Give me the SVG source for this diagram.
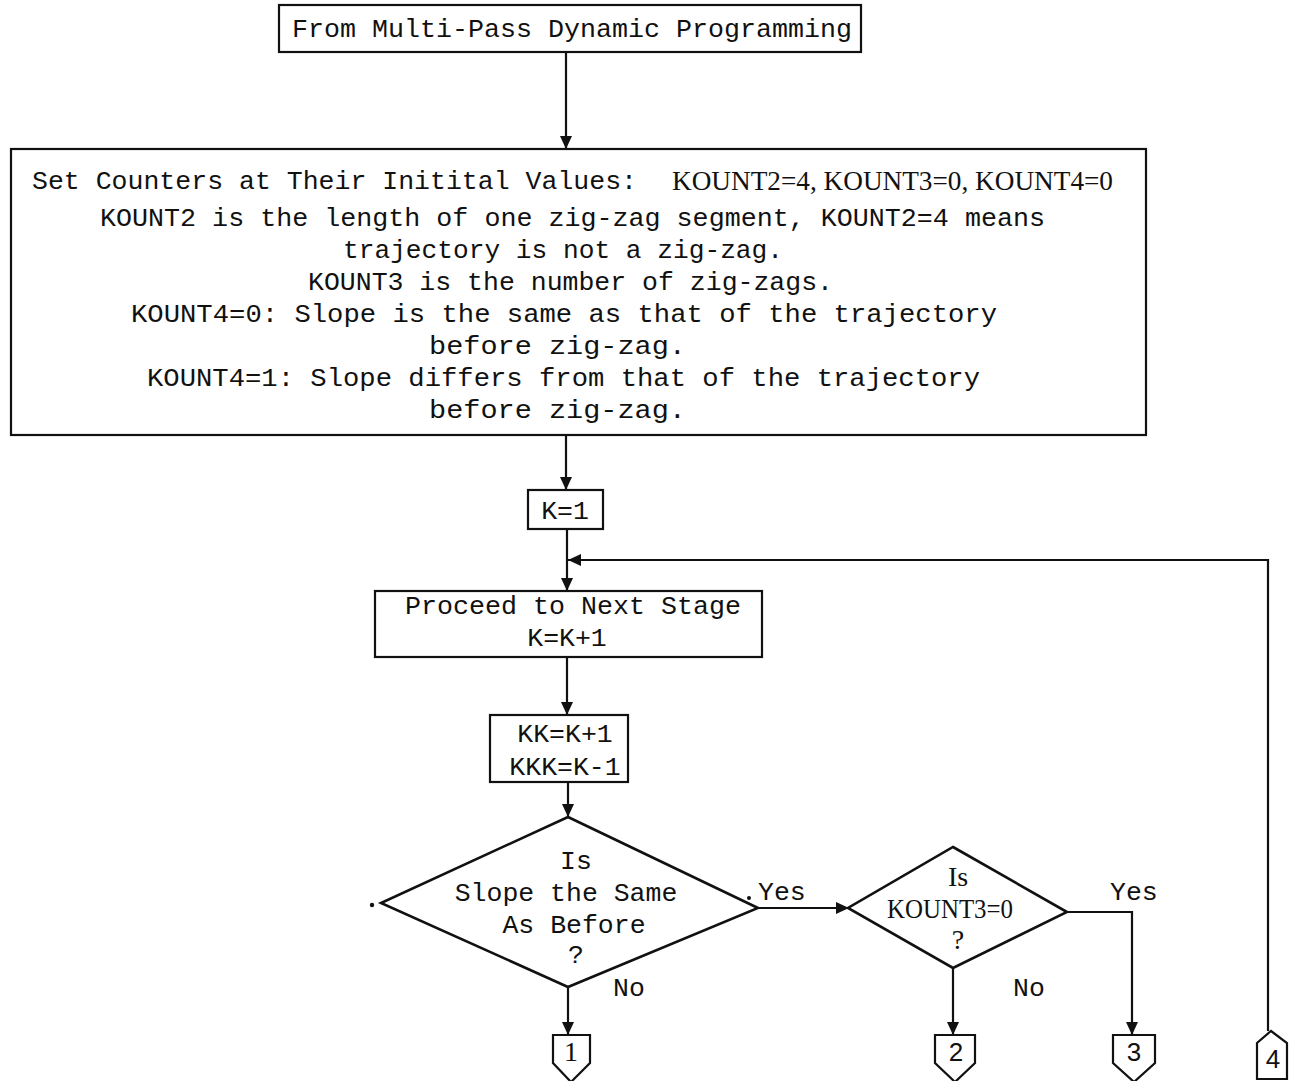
<svg xmlns="http://www.w3.org/2000/svg" width="1289" height="1081" viewBox="0 0 1289 1081">
<style>
  .box{fill:none;stroke:#111;stroke-width:2.2}
  .dia{fill:none;stroke:#111;stroke-width:2.6;stroke-linejoin:miter}
  .ln{fill:none;stroke:#111;stroke-width:2.2}
  .t{font-family:"Liberation Mono","DejaVu Sans Mono",monospace;font-size:26.5px;fill:#111}
  .s{font-family:"Liberation Serif","DejaVu Serif",serif;font-size:28px;fill:#111}
  .d{font-family:"Liberation Sans","DejaVu Sans",sans-serif;font-size:26px;fill:#111}
  .m{text-anchor:middle}
</style>
<defs>
  <marker id="ah" markerUnits="userSpaceOnUse" markerWidth="14" markerHeight="12" refX="13" refY="6" orient="auto">
    <path d="M0,0 L13,6 L0,12 z" fill="#111"/>
  </marker>
</defs>
<rect width="1289" height="1081" fill="#fff"/>

<g id="start">
  <rect class="box" x="279" y="5" width="582" height="47"/>
  <text class="t" x="292" y="37" textLength="560" lengthAdjust="spacingAndGlyphs">From Multi-Pass Dynamic Programming</text>
</g>

<g id="init">
  <rect class="box" x="11" y="149" width="1135" height="286"/>
  <text class="t" x="32" y="189" textLength="605" lengthAdjust="spacingAndGlyphs">Set Counters at Their Initital Values:</text>
  <text class="s" x="672" y="190" textLength="441" lengthAdjust="spacingAndGlyphs">KOUNT2=4, KOUNT3=0, KOUNT4=0</text>
  <text class="t" x="100" y="226" textLength="945" lengthAdjust="spacingAndGlyphs">KOUNT2 is the length of one zig-zag segment, KOUNT2=4 means</text>
  <text class="t" x="343" y="258" textLength="440" lengthAdjust="spacingAndGlyphs">trajectory is not a zig-zag.</text>
  <text class="t" x="308" y="290" textLength="525" lengthAdjust="spacingAndGlyphs">KOUNT3 is the number of zig-zags.</text>
  <text class="t" x="131" y="322" textLength="866" lengthAdjust="spacingAndGlyphs">KOUNT4=0:  Slope is the same as that of the trajectory</text>
  <text class="t" x="429" y="354" textLength="257" lengthAdjust="spacingAndGlyphs">before zig-zag.</text>
  <text class="t" x="147" y="386" textLength="833" lengthAdjust="spacingAndGlyphs">KOUNT4=1:  Slope differs from that of the trajectory</text>
  <text class="t" x="429" y="418" textLength="257" lengthAdjust="spacingAndGlyphs">before zig-zag.</text>
</g>

<g id="k1">
  <rect class="box" x="528" y="490" width="75" height="39"/>
  <text class="t m" x="565" y="519">K=1</text>
</g>

<g id="proceed">
  <rect class="box" x="375" y="591" width="387" height="66"/>
  <text class="t" x="405" y="614" textLength="336" lengthAdjust="spacingAndGlyphs">Proceed to Next Stage</text>
  <text class="t m" x="567" y="646">K=K+1</text>
</g>

<g id="kk">
  <rect class="box" x="490" y="715" width="138" height="67"/>
  <text class="t m" x="565" y="742">KK=K+1</text>
  <text class="t m" x="565" y="775">KKK=K-1</text>
</g>

<g id="slope">
  <polygon class="dia" points="568,817 758,908 568,987 381,903"/>
  <text class="t m" x="576" y="869">Is</text>
  <text class="t m" x="566" y="901">Slope the Same</text>
  <text class="t m" x="574" y="933">As Before</text>
  <text class="t m" x="576" y="963">?</text>
  <circle cx="372" cy="905" r="2.2" fill="#111"/>
</g>

<g id="kount3">
  <polygon class="dia" points="953,847 1067,912 953,968 848,908"/>
  <text class="s m" x="958" y="886">Is</text>
  <text class="s m" x="950" y="918" textLength="126" lengthAdjust="spacingAndGlyphs">KOUNT3=0</text>
  <text class="s m" x="958" y="949">?</text>
</g>

<g id="conn1">
  <path class="box" d="M553,1035 H590 V1063 L571,1082 L553,1063 Z"/>
  <text class="s m" x="571" y="1061">1</text>
</g>
<g id="conn2">
  <path class="box" d="M935,1035 H975 V1063 L955,1082 L935,1063 Z"/>
  <text class="d m" x="956" y="1061">2</text>
</g>
<g id="conn3">
  <path class="box" d="M1113,1035 H1155 V1063 L1134,1082 L1113,1063 Z"/>
  <text class="d m" x="1134" y="1061">3</text>
</g>
<g id="conn4">
  <path class="box" d="M1271,1031 L1287,1043 V1079 H1257 V1043 Z"/>
  <text class="d m" x="1273" y="1068">4</text>
</g>

<g id="connectors">
  <path class="ln" d="M566,52 V149" marker-end="url(#ah)"/>
  <path class="ln" d="M566,435 V490" marker-end="url(#ah)"/>
  <path class="ln" d="M567,529 V591" marker-end="url(#ah)"/>
  <path class="ln" d="M567,657 V715" marker-end="url(#ah)"/>
  <path class="ln" d="M568,782 V817" marker-end="url(#ah)"/>
  <path class="ln" d="M758,908 H849" marker-end="url(#ah)"/>
  <path class="ln" d="M568,987 V1035" marker-end="url(#ah)"/>
  <path class="ln" d="M953,968 V1035" marker-end="url(#ah)" stroke-width="3"/>
  <path class="ln" d="M1067,912 H1132 V1035" marker-end="url(#ah)"/>
  <path class="ln" d="M1268,1031 V560 H568" marker-end="url(#ah)"/>
  <circle cx="749" cy="898" r="2" fill="#111"/>
  <text class="t" x="758" y="900">Yes</text>
  <text class="t" x="613" y="996">No</text>
  <text class="t" x="1110" y="900">Yes</text>
  <text class="t" x="1013" y="996">No</text>
</g>
</svg>
